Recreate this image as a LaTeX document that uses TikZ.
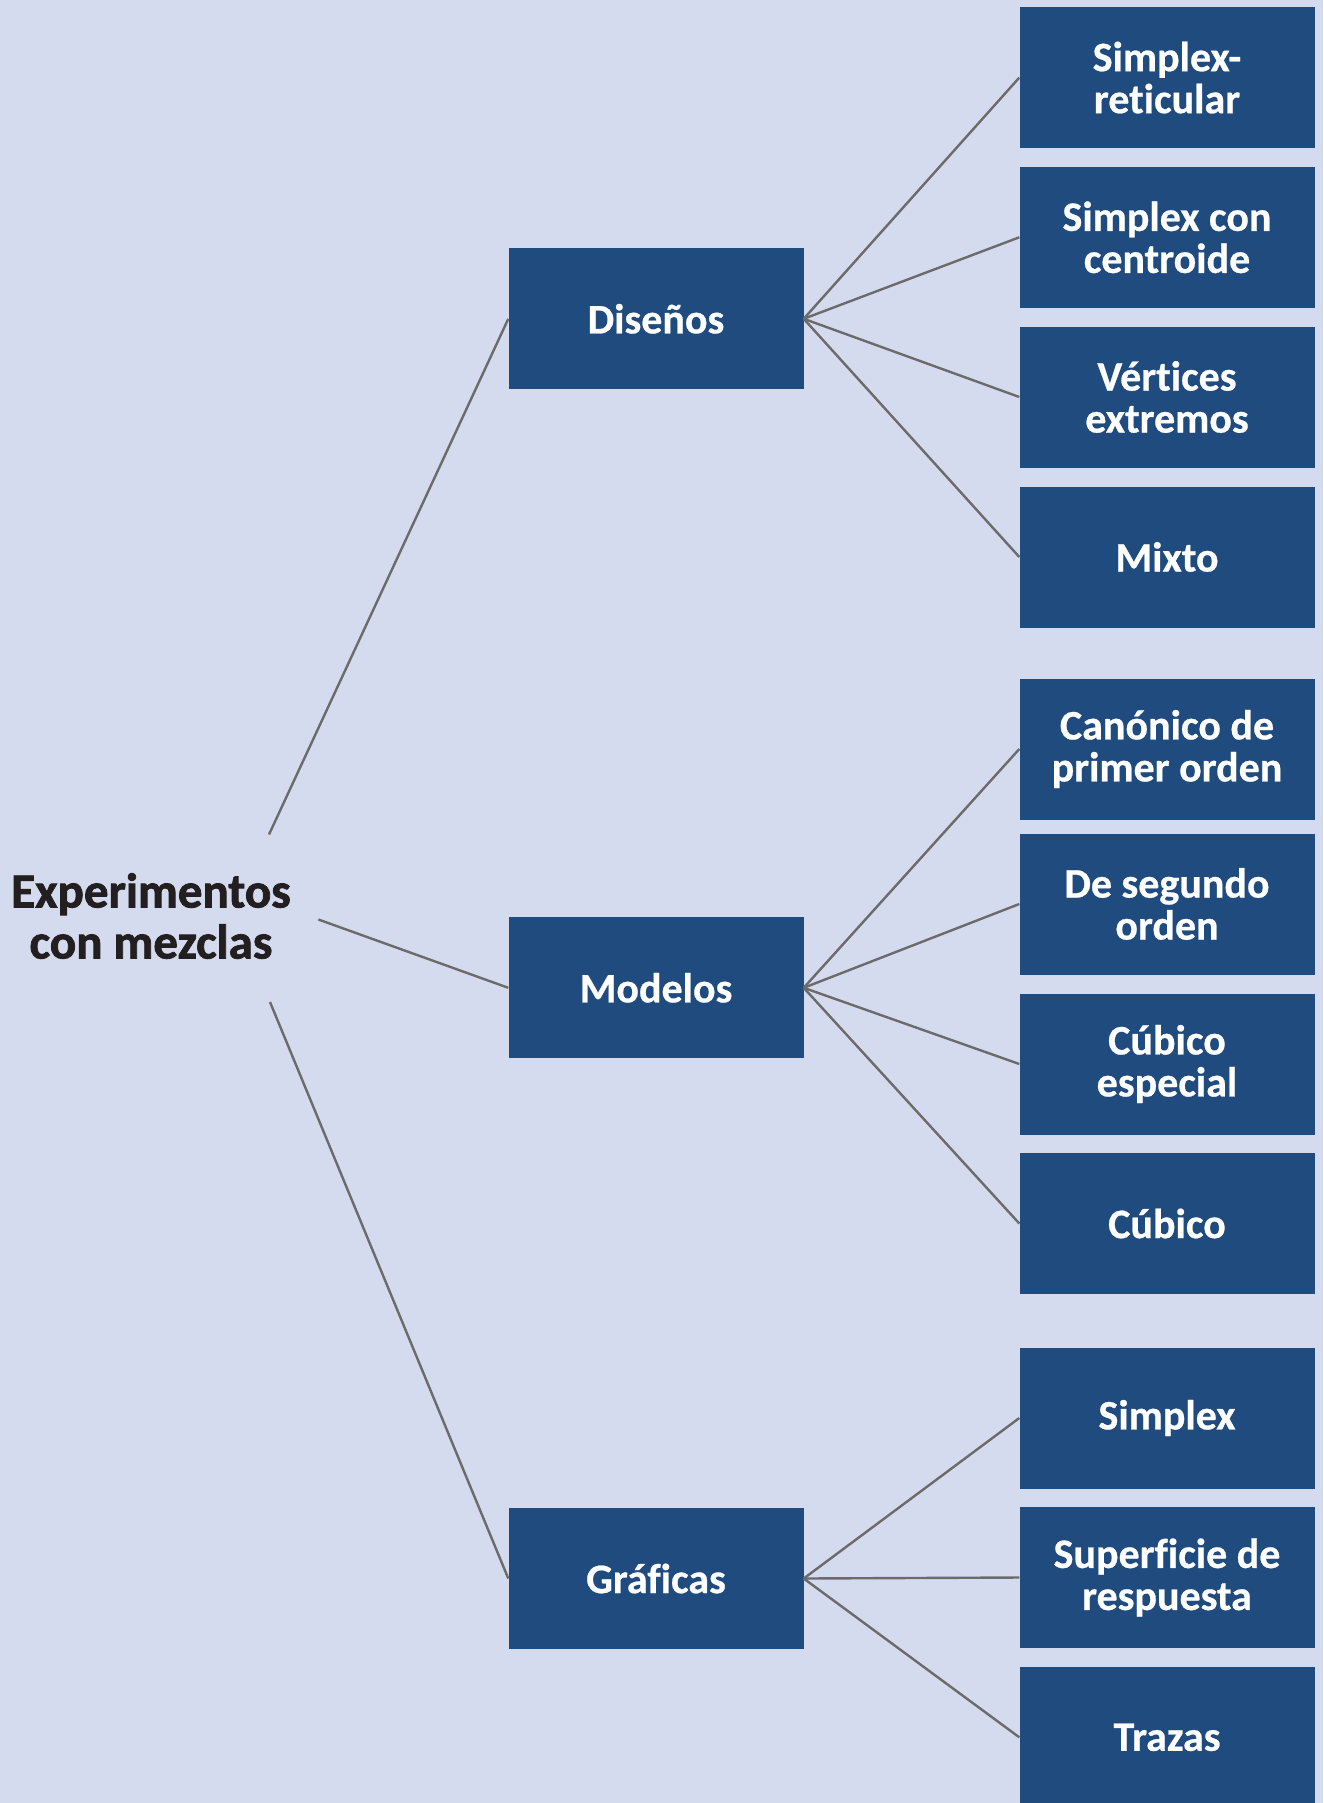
\documentclass[tikz,border=0pt]{standalone}
\usepackage{fontspec}
\setmainfont{Carlito}[Ligatures=CommonOff, BoldFeatures={FakeBold=0.6}]
\newfontfamily\rootfont{Carlito}[Ligatures=CommonOff, BoldFeatures={FakeBold=1.6}]
\usetikzlibrary{positioning}

\definecolor{bgblue}{HTML}{D5DBEE}
\definecolor{boxblue}{HTML}{1F4B7E}
\definecolor{linkgray}{HTML}{6B6B6B}
\definecolor{rootink}{HTML}{231F20}

\begin{document}
\begin{tikzpicture}[
  x=1pt, y=-1pt,
  every node/.style={align=center},
  catbox/.style={rectangle, fill=boxblue, text=white, minimum width=295pt, minimum height=141pt, inner sep=0pt, font=\fontsize{42}{42}\selectfont\bfseries},
  rootlabel/.style={text=rootink, inner sep=0pt, font=\rootfont\fontsize{49}{51}\selectfont\bfseries},
  link/.style={draw=linkgray, line width=2.4pt}
]
\path[use as bounding box] (0,0) rectangle (1323,1803);
\clip (0,0) rectangle (1323,1803);
\fill[bgblue] (0,0) rectangle (1323,1803);

% root and its three branches
\node[rootlabel] (root) at (151,916) {Experimentos\\con mezclas};
\node[catbox] (dis) at (656,318.8) {Diseños};
\node[catbox] (mod) at (656,987.8) {Modelos};
\node[catbox] (gra) at (656,1578.5) {Gráficas};

% leaves
\foreach \name/\ypos/\txt in {
    sr/77.6/{Simplex-\\reticular}, sc/237.3/{Simplex con\\centroide},
    ve/397/{Vértices\\extremos}, mx/557/{Mixto},
    cp/749/{Canónico de\\primer orden}, sg/904/{De segundo\\orden},
    ce/1064/{Cúbico\\especial}, cu/1223.5/{Cúbico},
    sx/1418/{Simplex}, su/1577.5/{Superficie de\\respuesta}, tr/1737.3/{Trazas}}
  \node[catbox] (\name) at (1167,\ypos) {\txt};

% connectors
\coordinate (rootdis) at (269,834.5);
\coordinate (rootmod) at (318.4,919.5);
\coordinate (rootgra) at (270,1002);
\draw[link] (rootdis) -- (dis.west);
\draw[link] (rootmod) -- (mod.west);
\draw[link] (rootgra) -- (gra.west);
\foreach \kid in {sr,sc,ve,mx}
  \draw[link] (dis.east) -- (\kid.west);
\foreach \kid in {cp,sg,ce,cu}
  \draw[link] (mod.east) -- (\kid.west);
\foreach \kid in {sx,su,tr}
  \draw[link] (gra.east) -- (\kid.west);
\end{tikzpicture}
\end{document}
